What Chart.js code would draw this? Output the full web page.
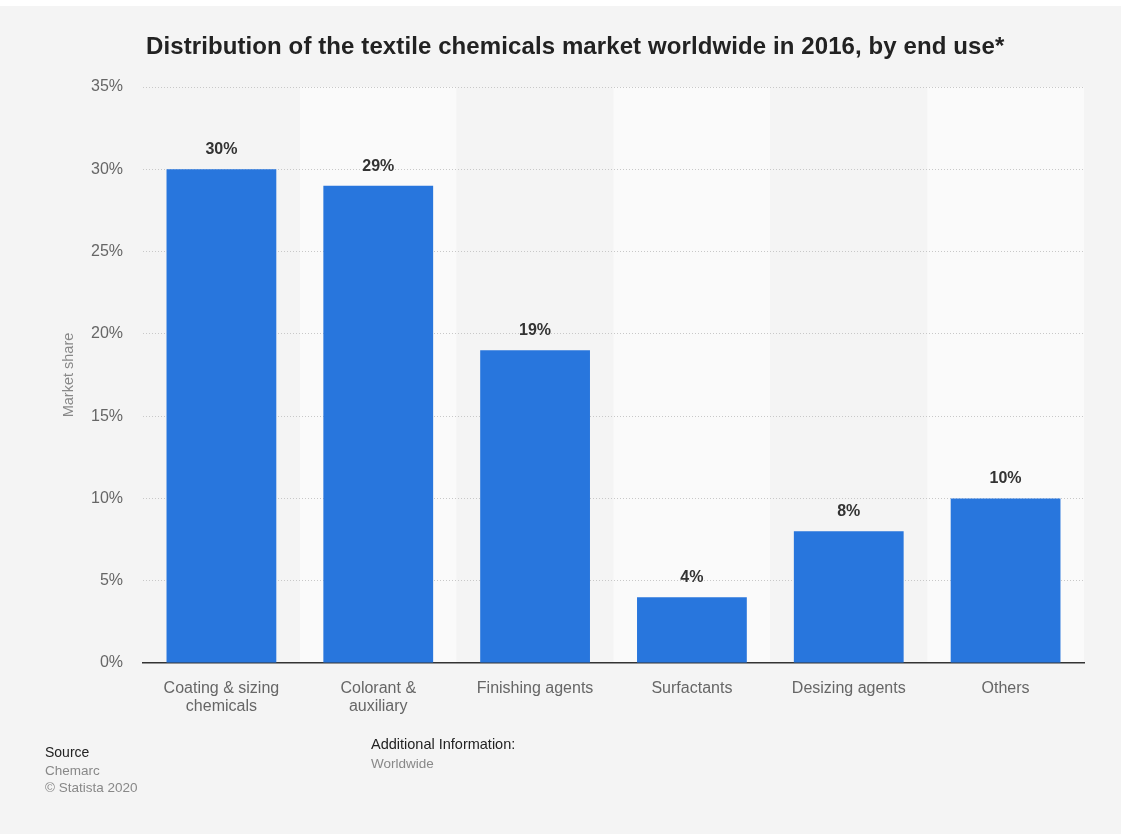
<!DOCTYPE html>
<html>
<head>
<meta charset="utf-8">
<script src="https://cdn.jsdelivr.net/npm/chart.js@4"></script>
<style>
  html, body { margin: 0; padding: 0; background: #f4f4f4; }
  body { width: 1121px; height: 834px; position: relative; overflow: hidden; font-family: "Liberation Sans", Arial, sans-serif; }
  #topStrip { position: absolute; left: 0; top: 0; width: 1121px; height: 6px; background: #fff; }
  #wrap { position: absolute; left: 0; top: 0; width: 1121px; height: 834px; }
  .t { position: absolute; white-space: nowrap; }
  #title { left: 146px; top: 32px; font-size: 24px; font-weight: bold; color: #222; letter-spacing: 0.1px; }
</style>
</head>
<body>
<div id="topStrip"></div>
<div id="wrap"><canvas id="grafik" width="1121" height="834"></canvas></div>
<div class="t" id="title">Distribution of the textile chemicals market worldwide in 2016, by end use*</div>
<div class="t" style="left:45px;top:744px;font-size:14px;color:#222;">Source</div>
<div class="t" style="left:45px;top:763px;font-size:13.5px;color:#888;">Chemarc</div>
<div class="t" style="left:45px;top:780px;font-size:13.5px;color:#888;">© Statista 2020</div>
<div class="t" style="left:371px;top:736px;font-size:14.5px;color:#222;">Additional Information:</div>
<div class="t" style="left:371px;top:756px;font-size:13.5px;color:#888;">Worldwide</div>
<script>
// Veriler
const kategoriler = [
    ["Coating & sizing", "chemicals"],
    ["Colorant &", "auxiliary"],
    "Finishing agents",
    "Surfactants",
    "Desizing agents",
    "Others"
];
const payDegerleri = [30, 29, 19, 4, 8, 10];
const yTikleri = [0, 5, 10, 15, 20, 25, 30, 35];

const yaziTipi = '"Liberation Sans", Arial, sans-serif';

// Kolon arka plan bantları
const bantPlugin = {
    id: 'bantlar',
    beforeDraw(chart) {
        const { ctx, chartArea, scales } = chart;
        const x = scales.x;
        const w = x.width / kategoriler.length;
        ctx.save();
        kategoriler.forEach((k, i) => {
            const cx = x.getPixelForValue(i);
            ctx.fillStyle = (i % 2 === 0) ? '#f4f4f4' : '#fafafa';
            ctx.fillRect(cx - w / 2, chartArea.top, w, chartArea.bottom - chartArea.top);
        });
        ctx.restore();
    }
};

// Değer etiketleri
const etiketPlugin = {
    id: 'etiketler',
    afterDatasetsDraw(chart) {
        const { ctx } = chart;
        const meta = chart.getDatasetMeta(0);
        ctx.save();
        ctx.font = 'bold 16px ' + yaziTipi;
        ctx.fillStyle = '#333';
        ctx.textAlign = 'center';
        ctx.textBaseline = 'alphabetic';
        meta.data.forEach((bar, i) => {
            ctx.fillText(payDegerleri[i] + '%', bar.x, bar.y - 15);
        });
        ctx.restore();
    }
};

const ctx = document.getElementById('grafik').getContext('2d');
new Chart(ctx, {
    type: 'bar',
    data: {
        labels: kategoriler,
        datasets: [{
            label: 'Market share',
            data: payDegerleri,
            backgroundColor: '#2876dd',
            barPercentage: 0.7,
            categoryPercentage: 1
        }]
    },
    options: {
        responsive: false,
        animation: false,
        layout: { padding: { top: 87, left: 60, right: 37, bottom: 111 } },
        plugins: {
            legend: { display: false },
            tooltip: { enabled: false }
        },
        scales: {
            x: {
                grid: { display: false },
                border: { display: true, color: '#333', width: 1.5 },
                ticks: {
                    color: '#666',
                    font: { size: 16, family: yaziTipi, lineHeight: 1.15 },
                    padding: 8,
                    maxRotation: 0
                },
                afterFit(scale) { scale.height = 60; }
            },
            y: {
                min: 0,
                max: 35,
                afterBuildTicks(scale) { scale.ticks = yTikleri.map(v => ({ value: v })); },
                grid: {
                    drawTicks: false,
                    color: c => c.tick.value === 0 ? 'rgba(0,0,0,0)' : '#c8c8c8'
                },
                border: { display: false, dash: [1, 2] },
                ticks: {
                    color: '#666',
                    font: { size: 16, family: yaziTipi },
                    padding: 20,
                    callback: v => v + '%'
                },
                title: {
                    display: true,
                    text: 'Market share',
                    color: '#888',
                    padding: { top: 0, bottom: 0 },
                    font: { size: 14.5, family: yaziTipi }
                },
                afterFit(scale) { scale.width = 83; }
            }
        }
    },
    plugins: [bantPlugin, etiketPlugin]
});
</script>
</body>
</html>
